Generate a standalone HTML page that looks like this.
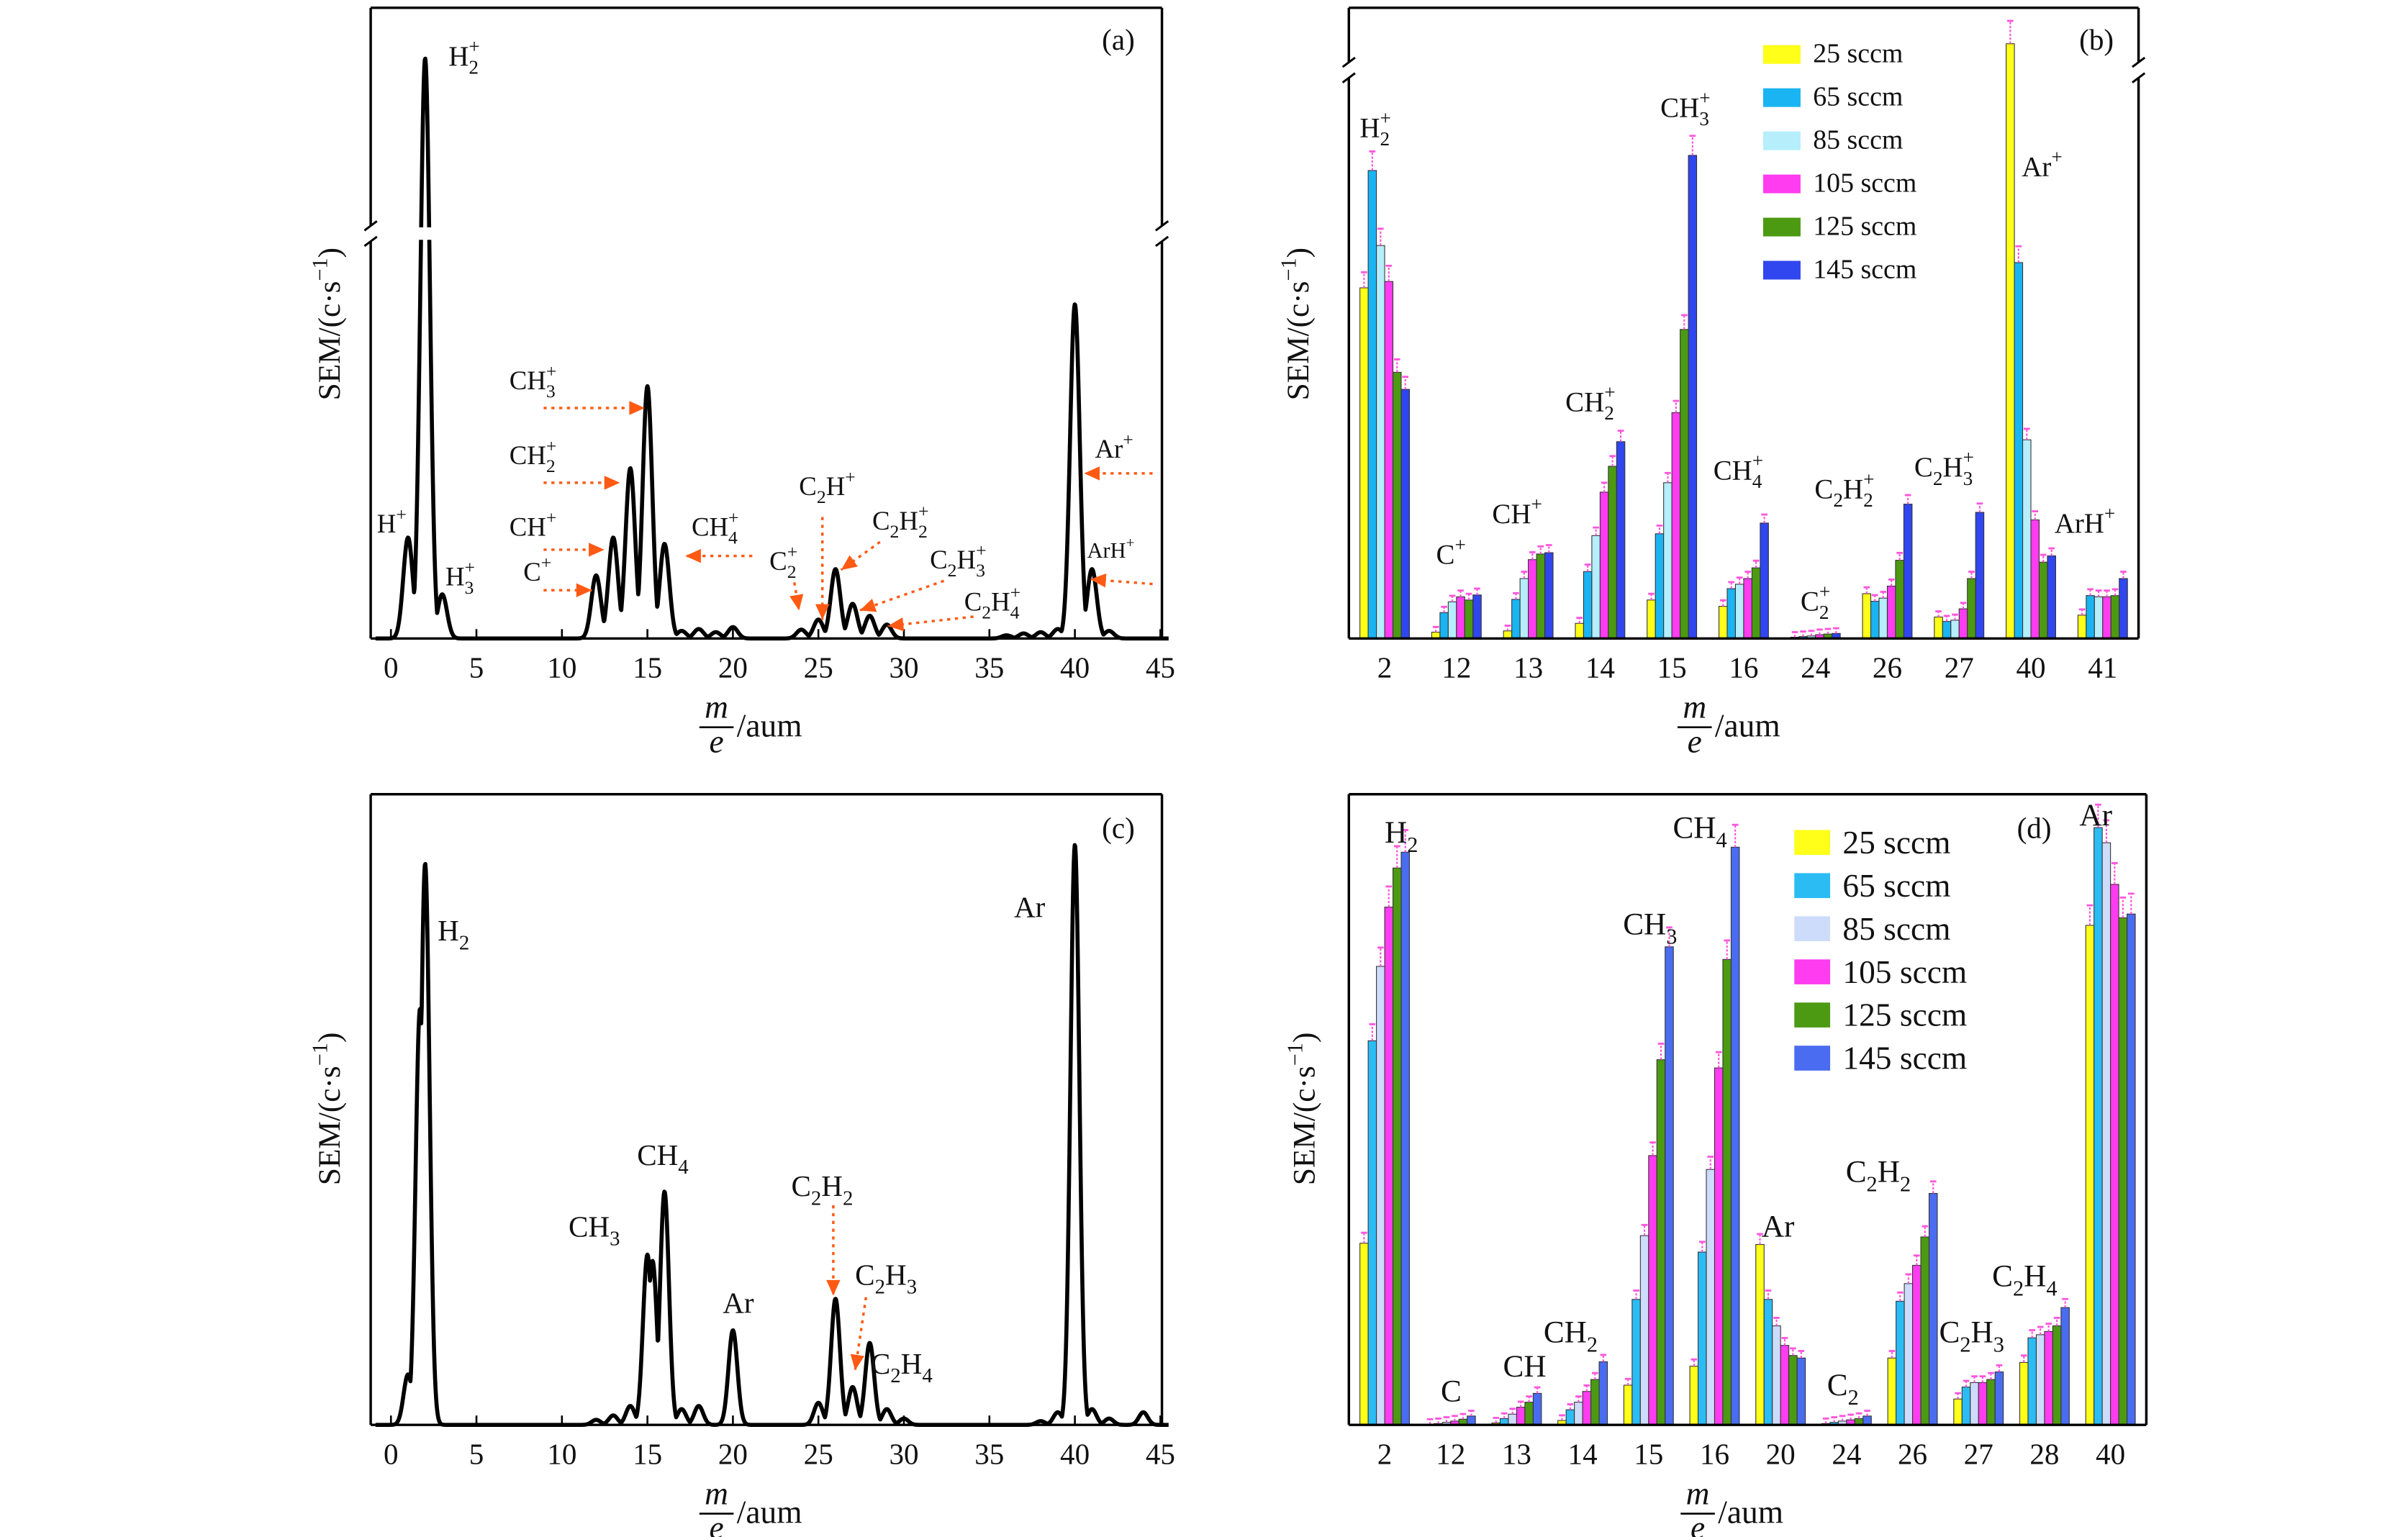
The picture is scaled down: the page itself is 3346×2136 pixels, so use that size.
<!DOCTYPE html>
<html><head><meta charset="utf-8">
<style>
html,body{margin:0;padding:0;background:#fff;}
svg{display:block;}
text{font-family:"Liberation Serif","DejaVu Serif",serif;fill:#111;}
</style></head>
<body>
<svg id="fig" xmlns="http://www.w3.org/2000/svg" width="3346" height="2136" viewBox="0 0 1546 987" preserveAspectRatio="none">
<g id="root"></g>
</svg>
<script>
// ---------- DATA ----------
// Panel (a) spectrum peaks
const aPeakMass=[1,2,3,12,13,14,15,16,17,18,19,20,24,25,26,27,28,29,36,37,38,39,40,41,42];
const aPeakVal =[16,92,7,10,16,27,40,15,1.2,1.5,1,1.8,1.4,3,11,5.5,3.6,2.2,0.5,0.8,1,1.5,53,11,1.2];
// Panel (c) spectrum peaks
const cPeakMass=[1,1.7,2,12,13,14,15,15.3,16,17,18,20,25,26,27,28,29,30,38,39,40,41,42,44];
const cPeakVal =[8,66,89,0.8,1.5,3,27,26,37,2.5,3,15,3.5,20,6,13,2.5,1,0.6,2,92,2.5,1,2];
// Panel (b) bars
const bCats=["2","12","13","14","15","16","24","26","27","40","41"];
const b25 =[55.6,1.0,1.2,2.4,6.1,5.1,0.2,7.1,3.4,94.3,3.7];
const b65 =[74.2,4.1,6.2,10.6,16.6,7.9,0.3,5.9,2.7,59.6,6.8];
const b85 =[62.3,5.8,9.5,16.3,24.7,8.6,0.4,6.4,2.9,31.5,6.6];
const b105=[56.6,6.6,12.5,23.2,35.8,9.5,0.6,8.3,4.7,18.8,6.6];
const b125=[42.2,6.1,13.4,27.3,49.0,11.2,0.7,12.4,9.5,12.1,6.8];
const b145=[39.5,6.9,13.6,31.2,76.6,18.3,0.8,21.3,20.0,13.1,9.5];
// Panel (d) bars
const dCats=["2","12","13","14","15","16","20","24","26","27","28","40"];
const d25 =[28.8,0.1,0.3,0.7,6.3,9.3,28.6,0.2,10.6,4.1,9.9,79.2];
const d65 =[60.9,0.2,1.0,2.4,19.9,27.4,19.9,0.4,19.6,6.0,13.8,94.7];
const d85 =[72.7,0.4,1.7,3.6,30.0,40.5,15.7,0.6,22.4,6.7,14.3,92.3];
const d105=[82.1,0.6,2.8,5.3,42.7,56.6,12.6,0.8,25.3,6.7,14.8,85.7];
const d125=[88.3,0.9,3.6,7.2,57.9,73.8,11.0,1.0,29.8,7.2,15.7,80.4];
const d145=[90.8,1.4,5.0,10.0,75.8,91.6,10.6,1.4,36.7,8.4,18.6,81.0];
const seriesNames=["25 sccm","65 sccm","85 sccm","105 sccm","125 sccm","145 sccm"];
const xTicks=[0,5,10,15,20,25,30,35,40,45];

// ---------- HELPERS ----------
const NS="http://www.w3.org/2000/svg";
const root=document.getElementById('root');
function el(tag,attrs,parent){const e=document.createElementNS(NS,tag);for(const k in attrs)e.setAttribute(k,attrs[k]);(parent||root).appendChild(e);return e;}
function lbl(x,y,str,fs,name,anchor){
  const t=el('text',{x:x,y:y,'font-size':fs,'text-anchor':anchor||'start'});
  
  
  const re=/([_^])(\{[^}]*\}|.)|([^_^]+)/g;let m;let lastSub=0;let cur=0;
  while((m=re.exec(str))){
    const ts=document.createElementNS(NS,'tspan');
    if(m[3]){ts.textContent=m[3];const dy=-cur;cur=0;if(dy)ts.setAttribute('dy',dy);lastSub=0;}
    else{let s=m[2];if(s[0]=='{')s=s.slice(1,-1);ts.textContent=s;ts.setAttribute('font-size',fs*0.7);
      let target=m[1]=='_'?fs*0.3:-fs*0.45;
      if(m[1]=='^'&&lastSub){ts.setAttribute('dx',-lastSub);}
      ts.setAttribute('dy',target-cur);cur=target;
      lastSub=m[1]=='_'?fs*0.7*0.5*s.length:0;}
    t.appendChild(ts);
  }
  return t;
}
function line(x1,y1,x2,y2,sw,name,col,dash){const l=el('line',{x1:x1,y1:y1,x2:x2,y2:y2,stroke:col||'#000','stroke-width':sw||1.3});if(dash)l.setAttribute('stroke-dasharray',dash);return l;}
function frame(x0,y0,x1,y1,name,breakY){
  const g=el('g',{});
  const segs=breakY?[[x0,y0,x0,breakY-5],[x0,breakY+5,x0,y1],[x1,y0,x1,breakY-5],[x1,breakY+5,x1,y1],[x0,y0,x1,y0],[x0,y1,x1,y1]]:[[x0,y0,x0,y1],[x1,y0,x1,y1],[x0,y0,x1,y0],[x0,y1,x1,y1]];
  segs.forEach(s=>{el('line',{x1:s[0],y1:s[1],x2:s[2],y2:s[3],stroke:'#000','stroke-width':1.6},g);});
  if(breakY){[x0,x1].forEach(x=>{[-5,5].forEach(d=>{el('line',{x1:x-4,y1:breakY+d+3,x2:x+4,y2:breakY+d-3,stroke:'#000','stroke-width':1.4},g);});});}
}
function arrow(x1,y1,x2,y2,name){
  const g=el('g',{});
  el('line',{x1:x1,y1:y1,x2:x2,y2:y2,stroke:'#ff5a14','stroke-width':1.6,'stroke-dasharray':'2,3'},g);
  const a=Math.atan2(y2-y1,x2-x1),L=10,W=4.5;
  const p=[[x2,y2],[x2-L*Math.cos(a)+W*Math.sin(a),y2-L*Math.sin(a)-W*Math.cos(a)],[x2-L*Math.cos(a)-W*Math.sin(a),y2-L*Math.sin(a)+W*Math.cos(a)]];
  el('polygon',{points:p.map(q=>q.join(',')).join(' '),fill:'#ff5a14'},g);
}
function xTitle(cx,y,name){
  const g=el('g',{});
  const m=el('text',{x:cx,y:y,'font-size':21,'font-style':'italic','text-anchor':'middle'},g);m.textContent='m';
  el('line',{x1:cx-11,y1:y+6,x2:cx+11,y2:y+6,stroke:'#000','stroke-width':1.2},g);
  const e=el('text',{x:cx,y:y+22,'font-size':21,'font-style':'italic','text-anchor':'middle'},g);e.textContent='e';
  const u=el('text',{x:cx+13,y:y+12,'font-size':21},g);u.textContent='/aum';
}
function yTitle(x,cy,name){
  const t=el('text',{x:0,y:0,'font-size':20,'text-anchor':'middle',transform:`translate(${x},${cy}) rotate(-90)`});
  
  t.innerHTML='SEM/(c·s<tspan dy="-8" font-size="14">−1</tspan><tspan dy="8">)</tspan>';
}

// ---------- SPECTRUM PANELS ----------
function spectrum(px0,px1,py0,py1,masses,vals,name,sigma,breakAt){
  const xs=m=>251+(m)*(745-251)/45 + (px0-238);
  const ys=v=>py1-(v/100)*(py1-py0);
  let d='';
  for(let m=-0.9;m<=45.5;m+=0.03){
    let v=0;for(let i=0;i<masses.length;i++){const z=(m-masses[i])/sigma;v=Math.max(v,vals[i]*Math.exp(-z*z/2));}
    const x=xs(m),y=ys(v);d+=(d?'L':'M')+x.toFixed(2)+','+y.toFixed(2);
  }
  const p=el('path',{d:d,fill:'none',stroke:'#000','stroke-width':2.6,'stroke-linejoin':'round'});
  
  if(breakAt){const r=el('rect',{x:xs(2)-8,y:breakAt-4,width:16,height:8,fill:'#fff'});}
  xTicks.forEach(t=>{
    const x=xs(t);line(x,py1,x,py1-6,1.2,'x-tick');
    const tt=el('text',{x:x,y:py1+25,'font-size':19,'text-anchor':'middle'});tt.textContent=t;
    
  });
}
spectrum(238,746,5,410,aPeakMass,aPeakVal,'spectrum-line-a',0.28,150);
frame(238,5,746,410,'panel-a-frame',150);
spectrum(238,746,510,915,cPeakMass,cPeakVal,'spectrum-line-c',0.26,null);
frame(238,510,746,915,'panel-c-frame',null);

// ---------- BAR PANELS ----------
const barCols=["#ffff1a","#1ab4f2","#b6eefb","#ff3cf0","#4c9a12","#3046ee"];
const barColsD=["#ffff1a","#2bbcf4","#cddcfa","#ff3cf0","#4c9a12","#4a6cf0"];
function bars(x0,x1,y0,y1,cats,series,cols,name,gap0,bw){
  const n=cats.length;const step=(x1-x0-gap0*2)/(n-1);
  const xs=i=>x0+gap0+i*step;
  const ys=v=>y1-(v/100)*(y1-y0);
  cats.forEach((c,i)=>{
    const cx=xs(i);
    series.forEach((s,j)=>{
      const v=s[i];const x=cx+(j-3)*bw;const y=ys(v);
      const r=el('rect',{x:x,y:y,width:bw,height:y1-y,fill:cols[j],stroke:'#333','stroke-width':0.5});
      
      
      const e=(0.03*v+0.8)*(y1-y0)/100;
      const g=el('g',{});
      el('line',{x1:x+bw/2,y1:y,x2:x+bw/2,y2:y-e,stroke:'#ff55dd','stroke-width':1,'stroke-dasharray':'1.5,1'},g);
      el('line',{x1:x+bw/2-2,y1:y-e,x2:x+bw/2+2,y2:y-e,stroke:'#ff55dd','stroke-width':1.3},g);
    });
    const t=el('text',{x:cx,y:y1+25,'font-size':19,'text-anchor':'middle'});t.textContent=c;
    
  });
}
bars(866,1373,5,410,bCats,[b25,b65,b85,b105,b125,b145],barCols,'b',23,5.3);
frame(866,5,1373,410,'panel-b-frame',45);
bars(866,1378,510,915,dCats,[d25,d65,d85,d105,d125,d145],barColsD,'d',23,5.3);
frame(866,510,1378,915,'panel-d-frame',null);

function legend(x,y,sw,sh,fs,step,cols,name){
  const g=el('g',{});
  seriesNames.forEach((s,i)=>{
    const r=el('rect',{x:x,y:y+i*step,width:sw,height:sh,fill:cols[i]},g);
    
    const t=el('text',{x:x+sw+8,y:y+i*step+sh-1,'font-size':fs},g);t.textContent=s;
    
  });
}
legend(1132,29,24,12,17.5,27.7,barCols,'legend-b');
legend(1152,533,23,16,21,27.7,barColsD,'legend-d');

[['(a)',718,32],['(b)',1346,32],['(c)',718,538],['(d)',1306,538]].forEach(p=>{
  const t=el('text',{x:p[1],y:p[2],'font-size':19,'text-anchor':'middle'});t.textContent=p[0];
  });

yTitle(218,208,'y-axis-title-a');yTitle(840,208,'y-axis-title-b');
yTitle(218,712,'y-axis-title-c');yTitle(844,712,'y-axis-title-d');
xTitle(460,461,'x-axis-title-a');xTitle(1088,461,'x-axis-title-b');
xTitle(460,966,'x-axis-title-c');xTitle(1090,966,'x-axis-title-d');

// ---------- ANNOTATIONS ----------
lbl(288,42,'H_2^+',18,'label-h2-ion');
lbl(242,342,'H^+',17,'label-h-ion');
lbl(286,376,'H_3^+',17,'label-h3-ion');
lbl(327,250,'CH_3^+',17,'label-ch3-ion');
lbl(327,298,'CH_2^+',17,'label-ch2-ion');
lbl(327,344,'CH^+',17,'label-ch-ion');
lbl(336,373,'C^+',17,'label-c-ion');
lbl(444,344,'CH_4^+',17,'label-ch4-ion');
lbl(513,318,'C_2H^+',17,'label-c2h-ion');
lbl(560,340,'C_2H_2^+',17,'label-c2h2-ion');
lbl(597,365,'C_2H_3^+',17,'label-c2h3-ion');
lbl(619,392,'C_2H_4^+',17,'label-c2h4-ion');
lbl(494,366,'C_2^+',17,'label-c2-ion');
lbl(703,294,'Ar^+',17,'label-ar-ion');
lbl(698,358,'ArH^+',14,'label-arh-ion');
arrow(349,262,414,262,'arrow-ch3');
arrow(349,310,398,310,'arrow-ch2');
arrow(349,353,388,353,'arrow-ch');
arrow(349,379,380,379,'arrow-c');
arrow(483,357,440,357,'arrow-ch4');
arrow(528,332,528,398,'arrow-c2h');
arrow(565,348,540,366,'arrow-c2h2');
arrow(606,373,552,392,'arrow-c2h3');
arrow(625,396,570,402,'arrow-c2h4');
arrow(510,374,513,392,'arrow-c2');
arrow(740,304,696,304,'arrow-ar');
arrow(740,375,700,372,'arrow-arh');
lbl(873,88,'H_2^+',18,'label-b-h2');
lbl(1066,75,'CH_3^+',18,'label-b-ch3');
lbl(1298,113,'Ar^+',18,'label-b-ar');
lbl(1005,264,'CH_2^+',18,'label-b-ch2');
lbl(958,336,'CH^+',18,'label-b-ch');
lbl(922,362,'C^+',18,'label-b-c');
lbl(1100,308,'CH_4^+',18,'label-b-ch4');
lbl(1165,320,'C_2H_2^+',18,'label-b-c2h2');
lbl(1229,306,'C_2H_3^+',18,'label-b-c2h3');
lbl(1156,392,'C_2^+',18,'label-b-c2');
lbl(1319,342,'ArH^+',18,'label-b-arh');
lbl(281,604,'H_2',19,'label-c-h2');
lbl(651,589,'Ar',19,'label-c-ar');
lbl(409,748,'CH_4',19,'label-c-ch4');
lbl(365,794,'CH_3',19,'label-c-ch3');
lbl(464,843,'Ar',19,'label-c-ar20');
lbl(508,768,'C_2H_2',19,'label-c-c2h2');
lbl(549,825,'C_2H_3',19,'label-c-c2h3');
lbl(559,882,'C_2H_4',19,'label-c-c2h4');
arrow(535,774,535,832,'arrow-c-c2h2');
arrow(556,833,549,880,'arrow-c-c2h3');
lbl(889,541,'H_2',20,'label-d-h2');
lbl(1074,538,'CH_4',20,'label-d-ch4');
lbl(1042,600,'CH_3',20,'label-d-ch3');
lbl(1335,530,'Ar',20,'label-d-ar40');
lbl(1131,794,'Ar',20,'label-d-ar20');
lbl(1185,759,'C_2H_2',20,'label-d-c2h2');
lbl(1279,826,'C_2H_4',20,'label-d-c2h4');
lbl(1245,862,'C_2H_3',20,'label-d-c2h3');
lbl(991,862,'CH_2',20,'label-d-ch2');
lbl(965,884,'CH',20,'label-d-ch');
lbl(925,900,'C',20,'label-d-c');
lbl(1173,896,'C_2',20,'label-d-c2');
</script>
</body></html>
